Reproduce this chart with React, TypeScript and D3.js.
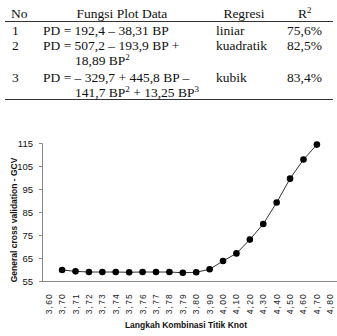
import React, { useRef, useEffect } from "react";
import * as d3 from "d3";

const headers = ["No", "Fungsi Plot Data", "Regresi", "R^2"];
const rowNo = ["1", "2", "3"];
const rowFunc = [
  ["PD = 192,4 – 38,31 BP"],
  ["PD = 507,2 – 193,9 BP +", "18,89 BP^2"],
  ["PD = – 329,7 + 445,8 BP –", "141,7 BP^2 + 13,25 BP^3"],
];
const rowReg = ["liniar", "kuadratik", "kubik"];
const rowR2 = ["75,6%", "82,5%", "83,4%"];

const knots = ["3,60", "3,70", "3,71", "3,72", "3,73", "3,74", "3,75", "3,76", "3,77", "3,78", "3,79",
  "3,80", "3,90", "4,00", "4,10", "4,20", "4,30", "4,40", "4,50", "4,60", "4,70", "4,80"];
const gcv = [null, 59.8, 59.2, 58.9, 58.9, 58.9, 58.8, 58.9, 58.9, 58.9, 58.6,
  58.8, 60.1, 63.7, 67.0, 73.0, 79.8, 89.1, 99.5, 107.8, 114.3, null];
const yTicks = [55, 65, 75, 85, 95, 105, 115];

// writes text with ^n parts as superscripts
const supText = (sel, str) => {
  let shift = 0;
  str.split(/(\^\d)/).filter((s) => s !== "").forEach((part) => {
    if (part[0] === "^") {
      sel.append("tspan").attr("dy", -5).attr("font-size", 9).text(part.slice(1));
      shift = 5;
    } else {
      sel.append("tspan").attr("dy", shift).text(part);
      shift = 0;
    }
  });
};

const App = () => {
  const canvas = useRef(null);

  useEffect(() => {
    const width = 337;
    const height = 336;
    const svg = d3.select(canvas.current);
    svg.selectAll("*").remove();
    svg.attr("width", width).attr("height", height);

    // ---- table ----
    const tbl = svg.append("g").attr("font-family", "'Liberation Serif', 'Times New Roman', serif")
      .attr("font-size", 13.5).attr("fill", "#111");
    const headX = [11, 122, 244, 298];
    const headAnchor = ["start", "middle", "middle", "start"];
    headers.forEach((h, i) => {
      const t = tbl.append("text").attr("x", headX[i]).attr("y", 18).attr("text-anchor", headAnchor[i]);
      supText(t, h);
    });
    tbl.append("line").attr("x1", 5).attr("x2", 333).attr("y1", 21.5).attr("y2", 21.5)
      .attr("stroke", "#333").attr("stroke-width", 1.2);
    tbl.append("line").attr("x1", 5).attr("x2", 333).attr("y1", 99.5).attr("y2", 99.5)
      .attr("stroke", "#333").attr("stroke-width", 1.2);
    const rowY = [35, 50, 82];
    rowNo.forEach((n, i) => {
      tbl.append("text").attr("x", 12).attr("y", rowY[i]).text(n);
      rowFunc[i].forEach((f, j) => {
        const t = tbl.append("text").attr("x", j === 0 ? 43 : 75).attr("y", rowY[i] + j * 15);
        supText(t, f);
      });
      tbl.append("text").attr("x", 216).attr("y", rowY[i]).text(rowReg[i]);
      tbl.append("text").attr("x", 287).attr("y", rowY[i]).text(rowR2[i]);
    });

    // ---- chart ----
    const left = 42, right = 337, top = 143, bottom = 281;
    const x = d3.scaleBand().domain(knots).range([left, right]);
    const y = d3.scaleLinear().domain([55, 115]).range([bottom, top]);

    const yAxis = svg.append("g").attr("transform", `translate(${left},0)`)
      .call(d3.axisLeft(y).tickValues(yTicks).tickSize(3).tickPadding(6));
    yAxis.select(".domain").attr("stroke", "#888");
    yAxis.selectAll(".tick line").attr("stroke", "#888");
    yAxis.selectAll("text").attr("font-family", "'Liberation Sans', Arial, sans-serif")
      .attr("font-size", 9.5).attr("fill", "#111");

    const xAxis = svg.append("g").attr("transform", `translate(0,${bottom})`)
      .call(d3.axisBottom(x).tickSize(0).tickPadding(0));
    xAxis.select(".domain").attr("stroke", "#888").attr("stroke-width", 1.2);
    xAxis.selectAll("text")
      .attr("font-family", "'Liberation Sans', Arial, sans-serif")
      .attr("font-size", 8.5).attr("letter-spacing", 1.2).attr("fill", "#222")
      .attr("text-anchor", "end").attr("dy", "0.35em")
      .attr("transform", "translate(0,12) rotate(-90)");

    const pts = knots.map((k, i) => ({ k, v: gcv[i] })).filter((d) => d.v !== null);
    const line = d3.line().x((d) => x(d.k) + x.bandwidth() / 2).y((d) => y(d.v));
    svg.append("path").datum(pts).attr("d", line).attr("fill", "none")
      .attr("stroke", "#333").attr("stroke-width", 1);
    svg.append("g").selectAll("circle").data(pts).join("circle")
      .attr("cx", (d) => x(d.k) + x.bandwidth() / 2).attr("cy", (d) => y(d.v))
      .attr("r", 3.3).attr("fill", "#000");

    svg.append("text").attr("x", 186).attr("y", 328).attr("text-anchor", "middle")
      .attr("font-family", "'Liberation Sans', Arial, sans-serif").attr("font-weight", "bold")
      .attr("font-size", 8.5).attr("fill", "#111").text("Langkah Kombinasi Titik Knot");
    svg.append("text").attr("transform", "translate(17,220) rotate(-90)").attr("text-anchor", "middle")
      .attr("font-family", "'Liberation Sans', Arial, sans-serif").attr("font-weight", "bold")
      .attr("font-size", 8.5).attr("fill", "#111").text("General cross validation - GCV");
  });

  return (
    <svg ref={canvas} style={{ position: "absolute", left: 0, top: 0, background: "#fff" }}></svg>
  );
};

export default App;
